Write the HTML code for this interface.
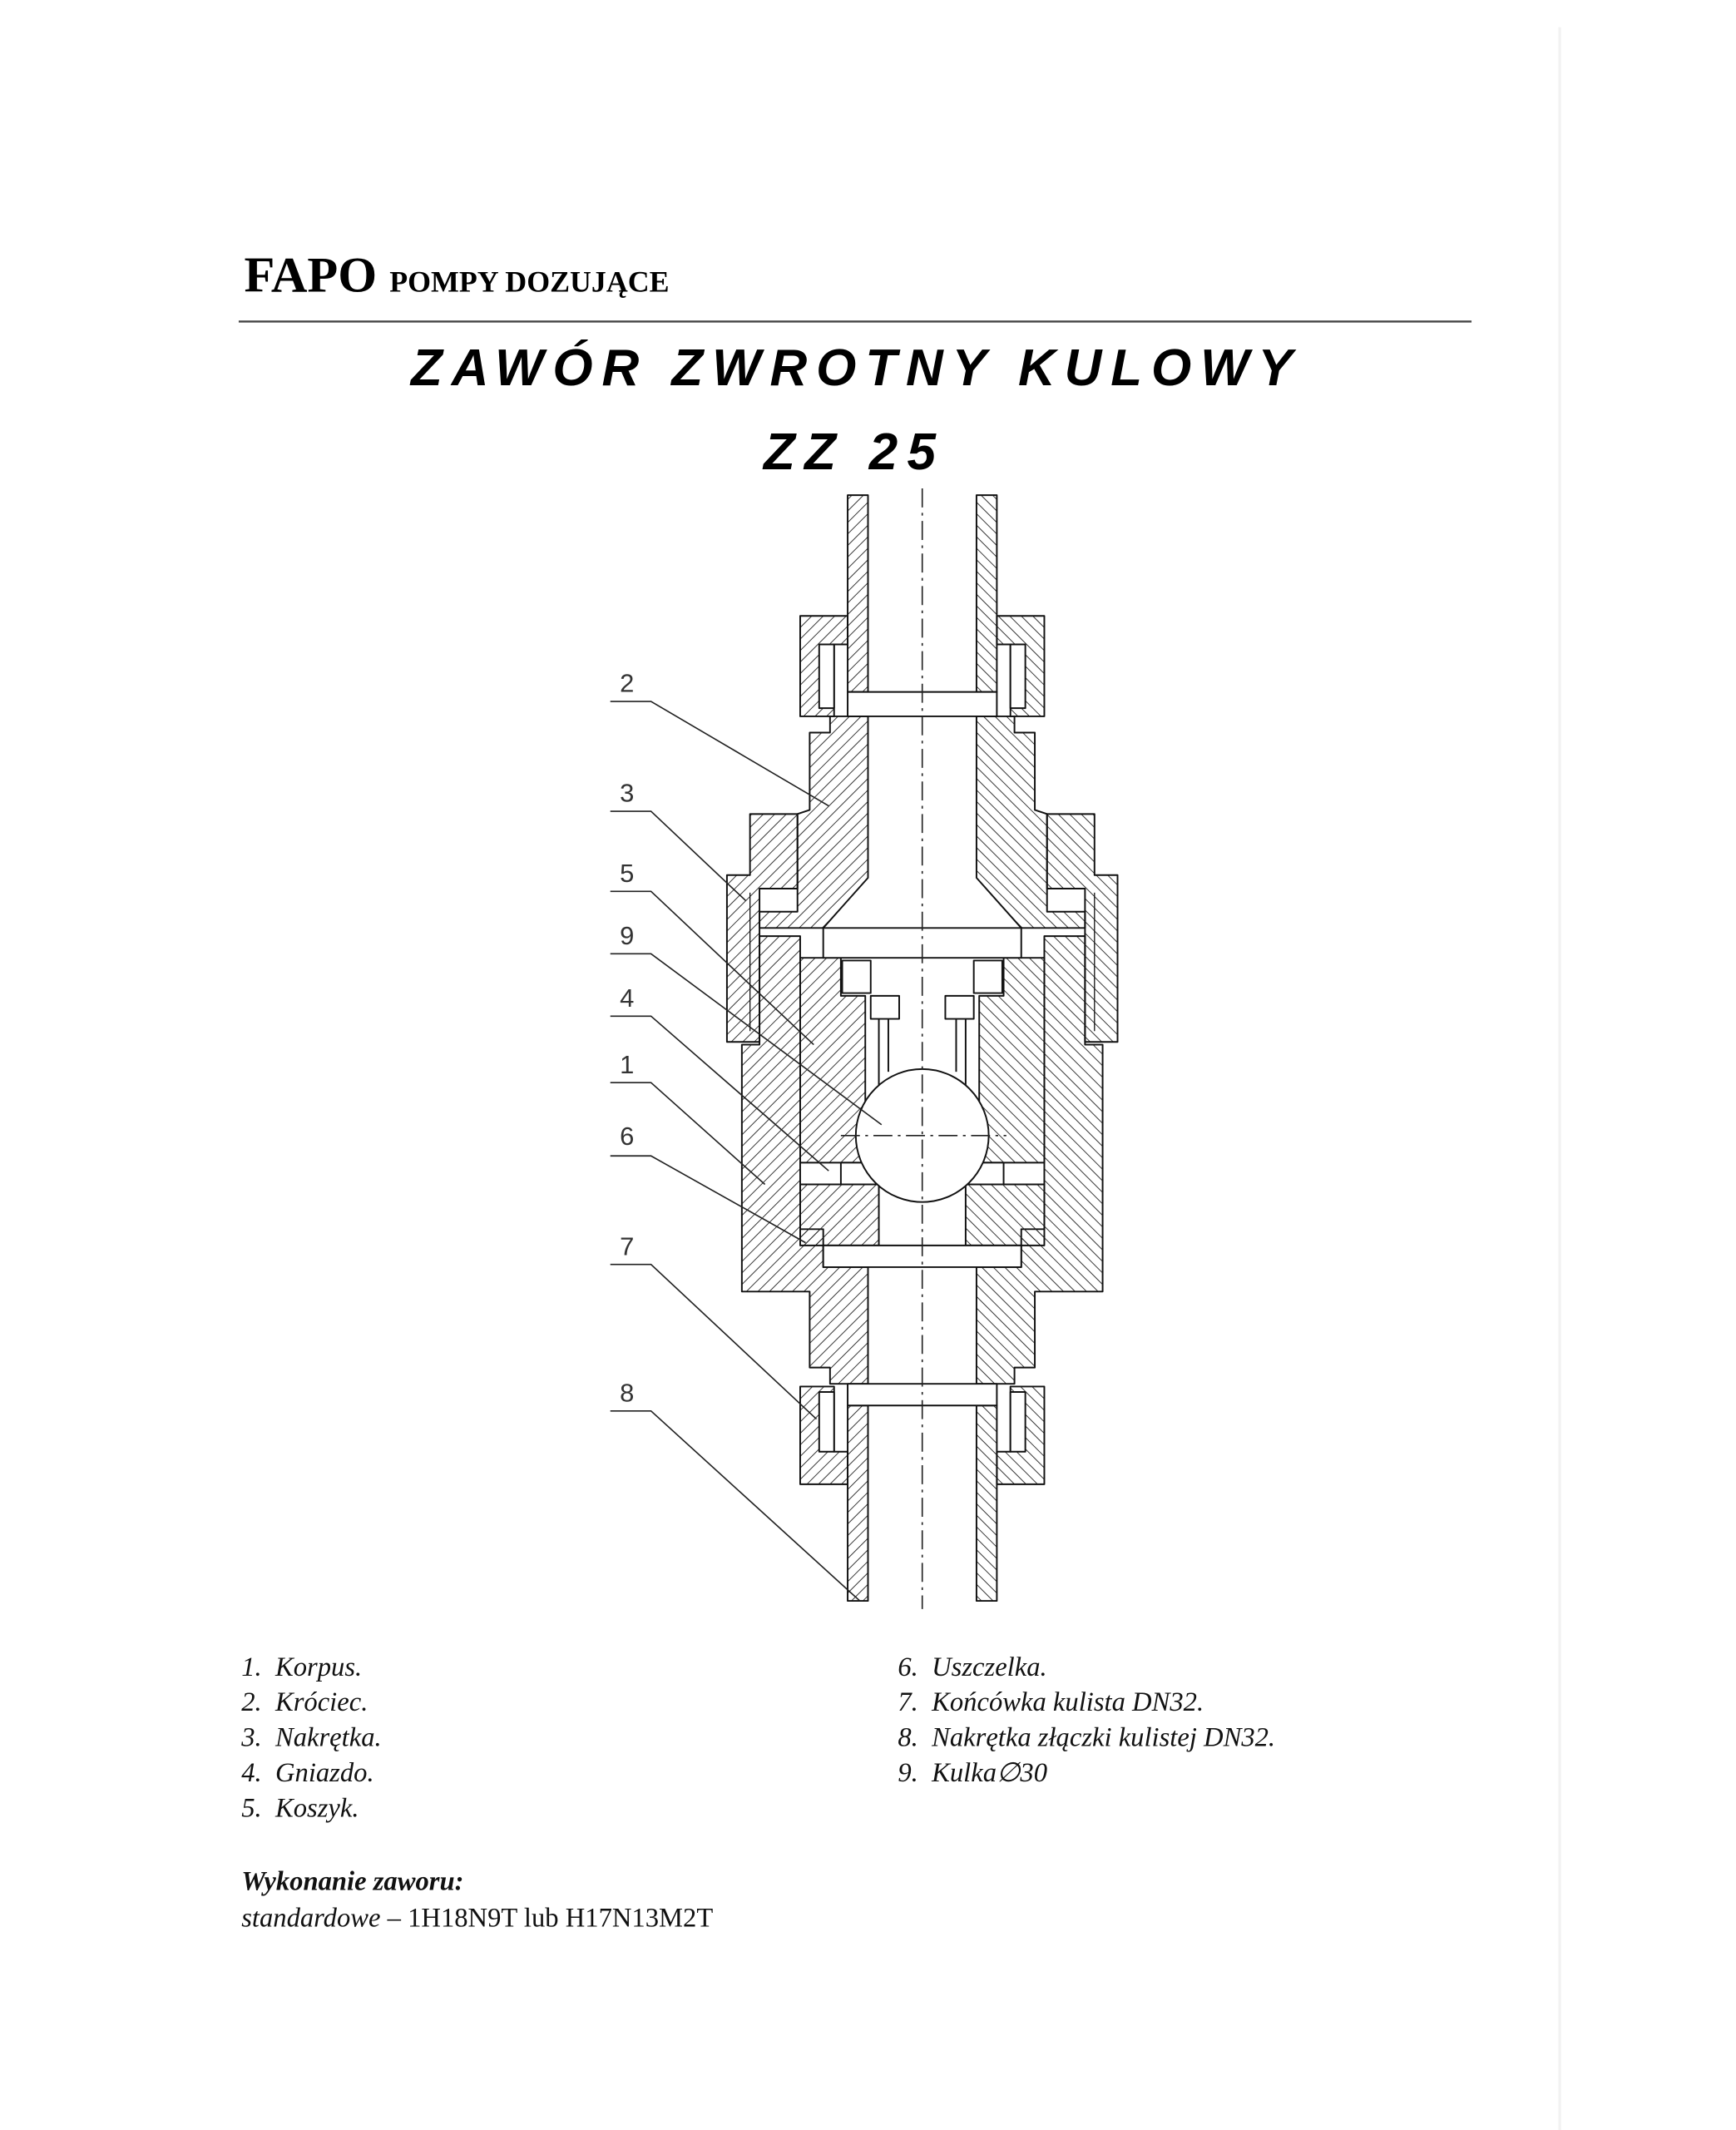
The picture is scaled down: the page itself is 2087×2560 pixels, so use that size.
<!DOCTYPE html>
<html><head><meta charset="utf-8"><style>
html,body{margin:0;padding:0;background:#fff;}
svg{display:block;}
</style></head><body>
<svg width="2087" height="2560" viewBox="0 0 1280 1570" preserveAspectRatio="none" xmlns="http://www.w3.org/2000/svg">
<defs>
<pattern id="h" patternUnits="userSpaceOnUse" width="6" height="6" patternTransform="rotate(45)">
<line x1="0" y1="0" x2="0" y2="6" stroke="#222" stroke-width="1.1"/>
</pattern>
</defs>
<rect width="1280" height="1570" fill="#fff"/>
<line x1="1150" y1="20" x2="1150" y2="1570" stroke="#f2f2f2" stroke-width="2"/>
<text x="180" y="215" font-family="Liberation Serif, serif" font-weight="bold" font-size="37">FAPO <tspan font-size="22">POMPY DOZUJĄCE</tspan></text>
<line x1="176" y1="237" x2="1085" y2="237" stroke="#444" stroke-width="1.5"/>
<text x="303" y="284" font-family="Liberation Sans, sans-serif" font-weight="bold" font-style="italic" font-size="38" textLength="650" lengthAdjust="spacing">ZAWÓR ZWROTNY KULOWY</text>
<text x="563" y="346" font-family="Liberation Sans, sans-serif" font-weight="bold" font-style="italic" font-size="38" textLength="127" lengthAdjust="spacing">ZZ 25</text>

<g stroke="#111" stroke-width="1.2" stroke-linejoin="round">
<g id="half">
  <rect x="625" y="365" width="15" height="145" fill="url(#h)"/>
  <polygon points="590,454 625,454 625,475 615,475 615,528 590,528" fill="url(#h)"/>
  <rect x="604" y="475" width="11" height="47" fill="#fff"/>
  <polygon points="612,528 640,528 640,647 607,684 560,684 560,672 588,672 588,600 597,597 597,540 612,540" fill="url(#h)"/>
  <polygon points="560,690 590,690 590,906 607,906 607,934 640,934 640,1020 612,1020 612,1008 597,1008 597,952 547,952 547,770 560,770" fill="url(#h)"/>
  <polygon points="553,600 588,600 588,655 560,655 560,768 536,768 536,645 553,645" fill="url(#h)"/>
  <line x1="553" y1="658" x2="553" y2="760" stroke-width="0.8"/>
  <polygon points="590,706 620,706 620,734 638,734 638,857 590,857" fill="url(#h)"/>
  <rect x="621" y="708" width="21" height="24" fill="#fff"/>
  <rect x="642" y="734" width="21" height="17" fill="#fff"/>
  <line x1="648" y1="751" x2="648" y2="800"/>
  <line x1="655" y1="751" x2="655" y2="790"/>
  <rect x="590" y="873" width="58" height="45" fill="url(#h)"/>
  <polygon points="590,1022 615,1022 615,1070 625,1070 625,1094 590,1094" fill="url(#h)"/>
  <rect x="604" y="1026" width="11" height="44" fill="#fff"/>
  <rect x="625" y="1036" width="15" height="144" fill="url(#h)"/>
</g>
<use href="#half" transform="translate(1360,0) scale(-1,1)"/>
<rect x="625" y="510" width="110" height="18" fill="#fff"/>
<rect x="607" y="684" width="146" height="22" fill="#fff"/>
<rect x="620" y="857" width="120" height="16" fill="#fff"/>
<rect x="607" y="918" width="146" height="16" fill="#fff"/>
<rect x="625" y="1020" width="110" height="16" fill="#fff"/>
<circle cx="680" cy="837" r="49" fill="#fff"/>
</g>
<line x1="680" y1="360" x2="680" y2="1186" stroke="#222" stroke-width="1" stroke-dasharray="14,4,2,4"/>
<line x1="620" y1="837" x2="742" y2="837" stroke="#222" stroke-width="1" stroke-dasharray="14,4,2,4"/>

<g stroke="#222" stroke-width="1" fill="none">
<polyline points="450,517 480,517 611,594"/>
<polyline points="450,598 480,598 550,664"/>
<polyline points="450,657 480,657 600,770"/>
<polyline points="450,703 480,703 650,829"/>
<polyline points="450,749 480,749 611,863"/>
<polyline points="450,798 480,798 564,873"/>
<polyline points="450,852 480,852 594,916"/>
<polyline points="450,932 480,932 602,1046"/>
<polyline points="450,1040 480,1040 634,1180"/>
</g>
<g font-family="Liberation Sans, sans-serif" font-size="19" fill="#333">
<text x="457" y="510">2</text>
<text x="457" y="591">3</text>
<text x="457" y="650">5</text>
<text x="457" y="696">9</text>
<text x="457" y="742">4</text>
<text x="457" y="791">1</text>
<text x="457" y="844">6</text>
<text x="457" y="925">7</text>
<text x="457" y="1033">8</text>
</g>

<g font-family="Liberation Serif, serif" font-style="italic" font-size="20" fill="#111">
<text x="178" y="1235">1.&#160;&#160;Korpus.</text>
<text x="178" y="1261">2.&#160;&#160;Króciec.</text>
<text x="178" y="1287">3.&#160;&#160;Nakrętka.</text>
<text x="178" y="1313">4.&#160;&#160;Gniazdo.</text>
<text x="178" y="1339">5.&#160;&#160;Koszyk.</text>
<text x="662" y="1235">6.&#160;&#160;Uszczelka.</text>
<text x="662" y="1261">7.&#160;&#160;Końcówka kulista DN32.</text>
<text x="662" y="1287">8.&#160;&#160;Nakrętka złączki kulistej DN32.</text>
<text x="662" y="1313">9.&#160;&#160;Kulka∅30</text>
<text x="178" y="1393" font-weight="bold">Wykonanie zaworu:</text>
<text x="178" y="1420">standardowe <tspan font-style="normal">– 1H18N9T lub H17N13M2T</tspan></text>
</g>
</svg>
</body></html>
